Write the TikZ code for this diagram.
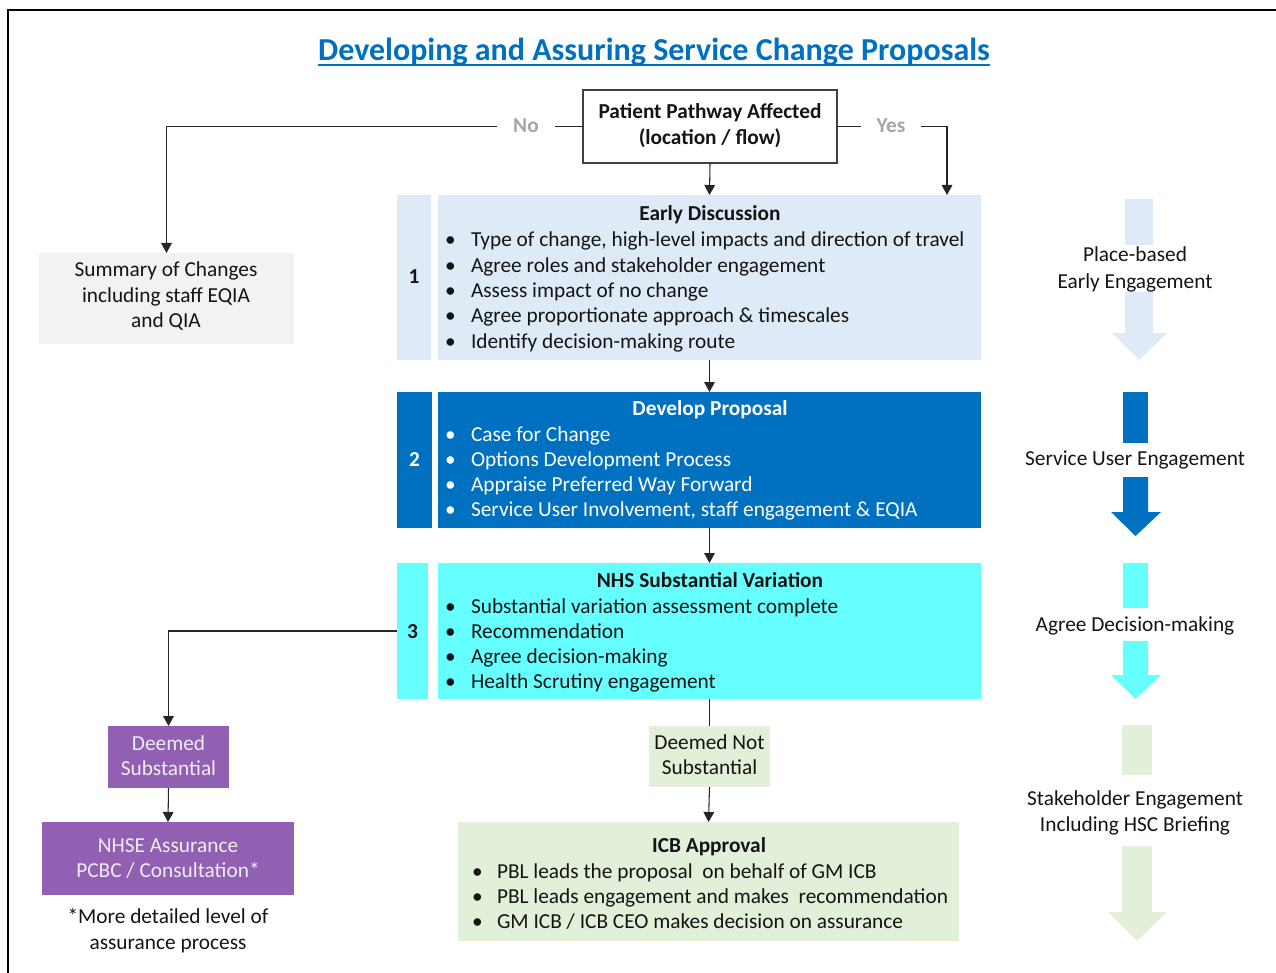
\documentclass[tikz,border=0pt]{standalone}
\usepackage{fontspec}
\setmainfont{Carlito}
\usetikzlibrary{arrows.meta,fit}
\definecolor{titleblue}{RGB}{0,112,192}
\definecolor{lblue}{RGB}{222,235,247}
\definecolor{dblue}{RGB}{0,112,192}
\definecolor{cyanbox}{RGB}{102,255,255}
\definecolor{purp}{RGB}{145,96,178}
\definecolor{lgreen}{RGB}{226,240,217}
\definecolor{lgray}{RGB}{242,242,242}
\definecolor{labgray}{RGB}{166,166,166}
\definecolor{purptext}{RGB}{240,236,246}
\definecolor{txt}{RGB}{20,20,20}
\begin{document}
\begin{tikzpicture}[x=0.75pt,y=-0.75pt,
  every node/.style={inner sep=0pt, outer sep=0pt},
  base/.style={font=\fontsize{16}{18.75}\selectfont, text=txt},
  box/.style={fit={#1}, inner sep=0pt, outer sep=0pt},
  ln/.style={base, anchor=west, text height=0.9em, text depth=0pt},
  ctr/.style={base, anchor=center, text height=0.9em, text depth=0pt},
  hd/.style={ctr, font=\fontsize{16}{18.75}\selectfont\bfseries},
  arr/.style={-{Triangle[width=8pt,length=7.5pt]}, line width=0.8pt, draw=black!85},
  con/.style={line width=0.8pt, draw=black!85},
  lab/.style={ctr, text=labgray, font=\fontsize{16}{18.75}\selectfont\bfseries, fill=white, inner xsep=12pt, inner ysep=3pt}
]
\useasboundingbox (0,0) rectangle (1276,973);
\draw[line width=2pt] (8,973) -- (8,10) -- (1276,10);

% title
\node[font=\fontsize{24}{28}\selectfont\bfseries, text=titleblue, anchor=base] (title) at (654,61) {Developing and Assuring Service Change Proposals};
\draw[titleblue, line width=1.5pt] ([yshift=-3pt]title.base west) -- ([yshift=-3pt]title.base east);

% top decision box
\node[box={(583,90)(837,163)}, draw=black!75, line width=0.9pt] (pp) {};
\node[hd] (pp1) at (710,113) {Patient Pathway Affected};
\node[hd] (pp2) at (710,139) {(location / flow)};

% summary box
\node[box={(39,253)(294,344)}, fill=lgray] (sum) {};
\node[ctr] (sum1) at (166,271) {Summary of Changes};
\node[ctr] (sum2) at (166,296) {including staff EQIA};
\node[ctr] (sum3) at (166,321) {and QIA};

% step 1
\node[box={(397,195)(431,360)}, fill=lblue] (n1) {};
\node[hd] (n1t) at (414,278) {1};
\node[box={(438,195)(981,360)}, fill=lblue] (s1) {};
\node[hd] (h1) at (710,215) {Early Discussion};
\foreach \t [count=\i] in {{Type of change, high-level impacts and direction of travel},{Agree roles and stakeholder engagement},{Assess impact of no change},{Agree proportionate approach \& timescales},{Identify decision-making route}}{
  \node[ln] (bb1-\i) at (445,{241+(\i-1)*25.3}) {•};
  \node[ln] (b1-\i) at (471,{241+(\i-1)*25.3}) {\t};
}

% step 2
\node[box={(397,392)(432,528)}, fill=dblue] (n2) {};
\node[hd, text=white] (n2t) at (414.5,460) {2};
\node[box={(438,392)(981,528)}, fill=dblue] (s2) {};
\node[hd, text=white] (h2) at (710,409) {Develop Proposal};
\foreach \t [count=\i] in {{Case for Change},{Options Development Process},{Appraise Preferred Way Forward},{Service User Involvement, staff engagement \& EQIA}}{
  \node[ln, text=white] (bb2-\i) at (445,{435+(\i-1)*25.1}) {•};
  \node[ln, text=white] (b2-\i) at (471,{435+(\i-1)*25.1}) {\t};
}

% step 3
\node[box={(397,563)(428,699)}, fill=cyanbox] (n3) {};
\node[hd] (n3t) at (412.5,632) {3};
\node[box={(438,563)(981,699)}, fill=cyanbox] (s3) {};
\node[hd] (h3) at (710,581) {NHS Substantial Variation};
\foreach \t [count=\i] in {{Substantial variation assessment complete},{Recommendation},{Agree decision-making},{Health Scrutiny engagement}}{
  \node[ln] (bb3-\i) at (445,{607+(\i-1)*25.1}) {•};
  \node[ln] (b3-\i) at (471,{607+(\i-1)*25.1}) {\t};
}

% left branch
\node[box={(108,726)(229,788)}, fill=purp] (ds) {};
\node[ctr, text=purptext] (ds1) at (168.5,744) {Deemed};
\node[ctr, text=purptext] (ds2) at (168.5,769) {Substantial};
\node[box={(42,822)(294,895)}, fill=purp] (nhse) {};
\node[ctr, text=purptext] (nh1) at (168,846) {NHSE Assurance};
\node[ctr, text=purptext] (nh2) at (168,871) {PCBC / Consultation*};
\node[ctr] (f1) at (168,917) {*More detailed level of};
\node[ctr] (f2) at (168,943) {assurance process};

% middle branch
\node[box={(649,726)(770,787)}, fill=lgreen] (dns) {};
\node[ctr] (dn1) at (709.5,743) {Deemed Not};
\node[ctr] (dn2) at (709.5,768) {Substantial};
\node[box={(458,822)(959,941)}, fill=lgreen] (icb) {};
\node[hd] (h4) at (709,846) {ICB Approval};
\foreach \t [count=\i] in {{PBL leads the proposal\ \ on behalf of GM ICB},{PBL leads engagement and makes\ \ recommendation},{GM ICB / ICB CEO makes decision on assurance}}{
  \node[ln] (bb4-\i) at (472,{872+(\i-1)*25.2}) {•};
  \node[ln] (b4-\i) at (497,{872+(\i-1)*25.2}) {\t};
}

% connectors
\coordinate (yesend) at (947,195);
\draw[arr] (pp.west) -| (sum.north);
\node[lab] (no) at (526,127) {No};
\draw[arr] (pp.east) -| (yesend);
\node[lab] (yes) at (891,127) {Yes};
\draw[arr] (pp.south) -- (s1.north);
\draw[arr] (s1.south) -- (s2.north);
\draw[arr] (s2.south) -- (s3.north);
\draw[arr] (n3.west) -| (ds.north);
\draw[arr] (ds.south) -- (nhse.north);
\draw[con] (s3.south) -- (dns.north);
\draw[arr] (dns.south) -- (icb.north);

% right-hand column arrows
\fill[lblue] (1125,199) rectangle (1153,245);
\fill[lblue] (1125,292) -- (1153,292) -- (1153,333) -- (1167,333) -- (1139,360) -- (1112,333) -- (1125,333) -- cycle;
\fill[dblue] (1123,392) rectangle (1148,443);
\fill[dblue] (1123,477) -- (1148,477) -- (1148,512) -- (1161,512) -- (1135.5,536) -- (1111,512) -- (1123,512) -- cycle;
\fill[cyanbox] (1123,563) rectangle (1148,608);
\fill[cyanbox] (1123,641) -- (1148,641) -- (1148,675) -- (1161,675) -- (1135.5,699) -- (1111,675) -- (1123,675) -- cycle;
\fill[lgreen] (1122,725) rectangle (1152,775);
\fill[lgreen] (1122,846) -- (1152,846) -- (1152,912) -- (1167,912) -- (1137,941) -- (1108,912) -- (1122,912) -- cycle;

\node[ctr] (r1a) at (1135,256) {Place-based};
\node[ctr] (r1b) at (1135,282) {Early Engagement};
\node[ctr] (r2) at (1135,459) {Service User Engagement};
\node[ctr] (r3) at (1135,625) {Agree Decision-making};
\node[ctr] (r4a) at (1135,799) {Stakeholder Engagement};
\node[ctr] (r4b) at (1135,825) {Including HSC Briefing};
\end{tikzpicture}
\end{document}
